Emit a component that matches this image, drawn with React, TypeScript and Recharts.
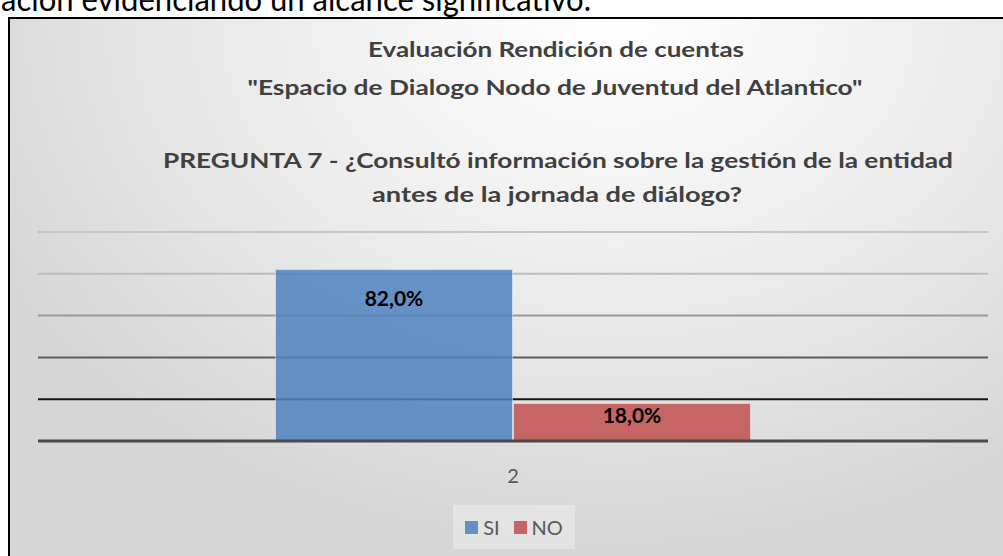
import React from 'react';
import { BarChart, Bar, XAxis, YAxis, CartesianGrid, LabelList, Legend } from 'recharts';

const categories = ['2'];
const siValues = [82.0];
const noValues = [18.0];
const seriesOrder = ['SI', 'NO'];
const yTicks = [0, 20, 40, 60, 80, 100];
const titleLines = [
  'Evaluación Rendición de cuentas',
  '"Espacio de Dialogo Nodo de Juventud del Atlantico"',
  'PREGUNTA 7 - ¿Consultó información sobre la gestión de la entidad',
  'antes de la jornada de diálogo?',
];
const topText = 'ación evidenciando un alcance significativo.';

const data = categories.map((c, i) => ({ category: c, SI: siValues[i], NO: noValues[i] }));

const FONT = "Lato, 'Open Sans', 'Noto Sans', sans-serif";

// style per gridline, from bottom (0) to top (100)
const gridStrokes = ['#4a4a4a', '#161616', '#5c5c5c', '#9a9a9a', '#bcbcbc', '#c6c6c6'];
const gridWidths = [3, 2, 2, 2, 2, 2];

// title layout: [centerX, baselineY, width]
const titleLayout = [
  [556, 57, 376],
  [555, 95, 615],
  [558, 168, 790],
  [557, 202, 370],
];

const fmt = (v: number) => v.toFixed(1).replace('.', ',') + '%';

const renderGridLine = (props: any) => {
  const { x1, x2, y1, y2, index } = props;
  const i = typeof index === 'number' ? index : 0;
  if (i === 0) return <g key={props.key} />;
  return (
    <line
      key={props.key}
      x1={x1}
      x2={x2}
      y1={y1}
      y2={y2}
      stroke={gridStrokes[i] || '#c6c6c6'}
      strokeWidth={gridWidths[i] || 2}
    />
  );
};

const renderLegend = (props: any) => {
  const payload = [...(props.payload || [])].sort(
    (a: any, b: any) => seriesOrder.indexOf(a.value) - seriesOrder.indexOf(b.value)
  );
  return (
    <div
      style={{
        display: 'flex',
        alignItems: 'center',
        justifyContent: 'center',
        height: 44,
        background: 'rgba(255,255,255,0.3)',
      }}
    >
      {payload.map((p: any, i: number) => (
        <span key={p.value} style={{ display: 'flex', alignItems: 'center', marginLeft: i === 0 ? 0 : 14 }}>
          <svg width={13} height={13} style={{ marginRight: 5 }}>
            <rect x={0} y={0} width={13} height={13} fill={p.color} />
          </svg>
          <span style={{ color: '#595959', fontSize: 20, fontFamily: FONT }}>{p.value}</span>
        </span>
      ))}
    </div>
  );
};

export default function App() {
  return (
    <div
      style={{
        position: 'absolute',
        left: 0,
        top: 0,
        width: 1003,
        height: 556,
        overflow: 'hidden',
        background: '#ffffff',
        fontFamily: FONT,
      }}
    >
      <svg width={1003} height={20} style={{ position: 'absolute', left: 0, top: 0 }}>
        <text x={1} y={11} fontSize={33} fill="#000" fontFamily={FONT} textLength={590} lengthAdjust="spacingAndGlyphs">
          {topText}
        </text>
      </svg>
      <div
        style={{
          position: 'absolute',
          left: 8,
          top: 17,
          width: 1010,
          height: 560,
          border: '2px solid #000',
          boxSizing: 'border-box',
          background:
            'radial-gradient(ellipse 70% 95% at 60% 0%, #ffffff 0%, #f6f6f6 25%, #e6e6e6 65%, #d6d6d6 100%)',
        }}
      />
      <svg width={1003} height={230} style={{ position: 'absolute', left: 0, top: 0 }}>
        {titleLines.map((t, i) => (
          <text
            key={i}
            x={titleLayout[i][0]}
            y={titleLayout[i][1]}
            textAnchor="middle"
            fontSize={21}
            fontWeight={700}
            fill="#404040"
            fontFamily={FONT}
            textLength={titleLayout[i][2]}
            lengthAdjust="spacingAndGlyphs"
          >
            {t}
          </text>
        ))}
      </svg>
      <div style={{ position: 'absolute', left: 0, top: 0 }}>
        <BarChart
          width={1003}
          height={556}
          data={data}
          margin={{ top: 232, right: 15, left: 38, bottom: 75 }}
          barCategoryGap="25%"
          barGap={1}
        >
          <CartesianGrid vertical={false} horizontal={renderGridLine} />
          <YAxis hide domain={[0, 100]} ticks={yTicks} />
          <XAxis
            dataKey="category"
            height={40}
            axisLine={{ stroke: '#4a4a4a', strokeWidth: 3 }}
            tickLine={false}
            tickMargin={22}
            tick={{ fill: '#595959', fontSize: 20, fontFamily: FONT }}
          />
          <Legend
            verticalAlign="middle"
            align="center"
            content={renderLegend}
            wrapperStyle={{ top: 505, left: 453, width: 122, height: 44 }}
          />
          <Bar dataKey="SI" name="SI" fill="rgba(79,129,189,0.85)" stroke="rgba(255,255,255,0.45)" strokeWidth={1} isAnimationActive={false}>
            <LabelList
              dataKey="SI"
              position="insideTop"
              offset={21}
              formatter={fmt as any}
              style={{ fill: '#000', fontWeight: 700, fontSize: 21, fontFamily: FONT }}
            />
          </Bar>
          <Bar dataKey="NO" name="NO" fill="rgba(192,80,77,0.85)" stroke="rgba(255,255,255,0.45)" strokeWidth={1} isAnimationActive={false}>
            <LabelList
              dataKey="NO"
              position="insideTop"
              offset={5}
              formatter={fmt as any}
              style={{ fill: '#000', fontWeight: 700, fontSize: 21, fontFamily: FONT }}
            />
          </Bar>
        </BarChart>
      </div>
    </div>
  );
}
